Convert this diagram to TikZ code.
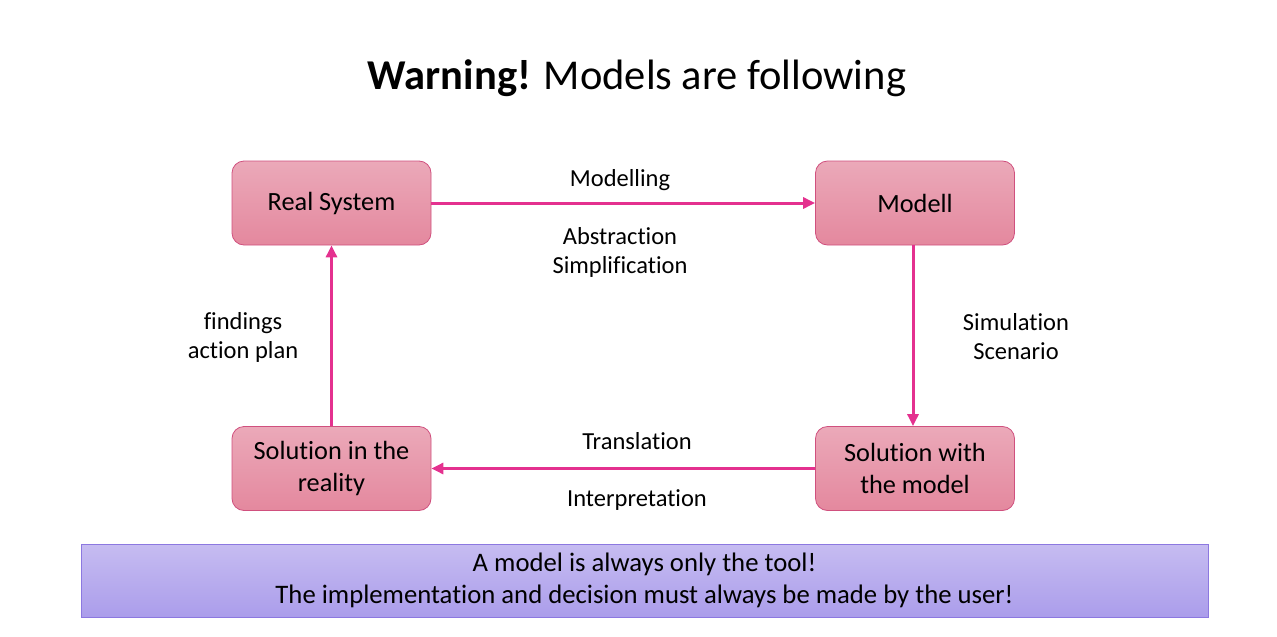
\documentclass[tikz,border=0pt]{standalone}
\usepackage{fontspec}
\setmainfont{Carlito}[Ligatures=NoCommon]
\begin{document}
\begin{tikzpicture}[x=1pt,y=-1pt,
  stepbox/.style={draw=boxborder, line width=0.8pt, rounded corners=12pt, top color=boxtop, bottom color=boxbot, minimum width=199pt, minimum height=84pt, align=center, font=\fontsize{26.3}{32}\selectfont},
  flow/.style={draw=arrowc, line width=3pt, -{Triangle[length=12pt,width=11pt]}},
  lbl/.style={align=center, font=\fontsize{24.5}{29}\selectfont}]
\definecolor{boxtop}{HTML}{EBA9B9}
\definecolor{boxbot}{HTML}{E4889E}
\definecolor{boxborder}{HTML}{D0507E}
\definecolor{arrowc}{HTML}{E4318F}
\definecolor{bantop}{HTML}{C6BCF1}
\definecolor{banbot}{HTML}{AB9DEB}
\definecolor{banborder}{HTML}{8C78E0}
\useasboundingbox (0,0) rectangle (1277,637);
\usetikzlibrary{arrows.meta}
\node[font=\fontsize{42.5}{46}\selectfont] (title) at (637,78) {\textbf{Warning!} Models are following};
\node[stepbox] (rs) at (331.5,203) {Real System};
\node[stepbox] (mo) at (915,203) {Modell};
\node[stepbox] (sr) at (331.5,468.5) {Solution in the\\reality};
\node[stepbox] (sm) at (915,468.5) {Solution with\\the model};
\draw[flow] (rs.east) -- (mo.west);
\draw[flow] ([xshift=-2pt]mo.south) -- ([xshift=-2pt]sm.north);
\draw[flow] (sm.west) -- (sr.east);
\draw[flow] (sr.north) -- (rs.south);
\node[lbl] (l1) at (620,180) {Modelling};
\node[lbl] (l2) at (620,252) {Abstraction\\Simplification};
\node[lbl] (l3) at (1016,337) {Simulation\\Scenario};
\node[lbl] (l4) at (637,441) {Translation};
\node[lbl] (l5) at (637,500) {Interpretation};
\node[lbl] (l6) at (243,337) {findings\\action plan};
\node[draw=banborder, line width=0.8pt, top color=bantop, bottom color=banbot, minimum width=1127pt, minimum height=73pt, align=center, font=\fontsize{26.7}{32}\selectfont] (ban) at (644.5,580.5) {A model is always only the tool!\\The implementation and decision must always be made by the user!};
\end{tikzpicture}
\end{document}
